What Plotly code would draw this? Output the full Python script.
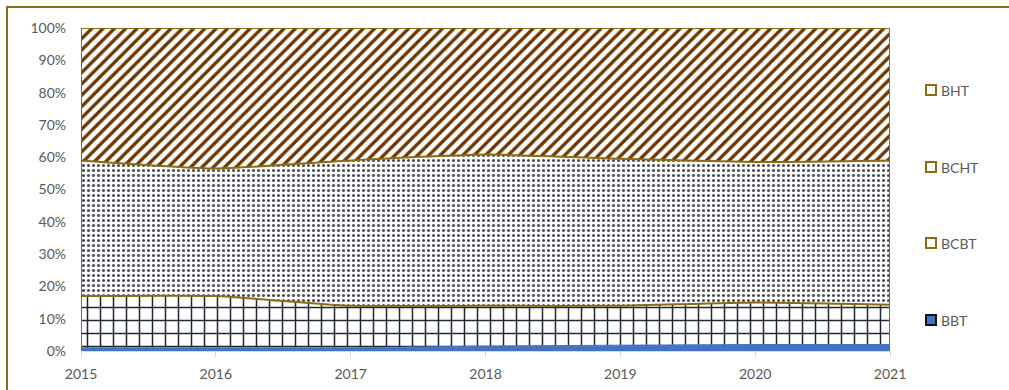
import plotly.graph_objects as go

years = [2015, 2016, 2017, 2018, 2019, 2020, 2021]
BBT = [1.0, 1.0, 1.0, 1.5, 1.8, 2.0, 2.0]
BCBT = [16.0, 16.0, 13.0, 12.5, 12.2, 13.0, 12.3]
BCHT = [42.0, 39.5, 45.0, 46.8, 45.5, 43.5, 44.7]
BHT = [41.0, 43.5, 41.0, 39.2, 40.5, 41.5, 41.0]
series_names = ["BBT", "BCBT", "BCHT", "BHT"]
y_ticks = [0, 10, 20, 30, 40, 50, 60, 70, 80, 90, 100]
y_tick_labels = [f"{v}%" for v in y_ticks]

GOLD = "#8C6A10"
GRAY = "#595959"
FONT = "Lato"

fig = go.Figure()
styles = {
    "BBT": dict(line=dict(color="#4472C4", width=1, smoothing=0.5), fillcolor="#4472C4"),
    "BCBT": dict(line=dict(color=GOLD, width=2, smoothing=0.5), fillcolor="white",
                 fillpattern=dict(shape="+", fgcolor="#1F2733", bgcolor="white", fgopacity=1,
                                  size=13, solidity=0.22)),
    "BCHT": dict(line=dict(color=GOLD, width=2, smoothing=0.5), fillcolor="white",
                 fillpattern=dict(shape=".", fgcolor="#4A4F5A", bgcolor="white", fgopacity=1,
                                  size=5, solidity=0.3)),
    "BHT": dict(line=dict(color=GOLD, width=2, smoothing=0.5), fillcolor="white",
                fillpattern=dict(shape="/", fgcolor="#6E3500", bgcolor="white", fgopacity=1,
                                 size=8, solidity=0.42)),
}
for name, vals in zip(series_names, [BBT, BCBT, BCHT, BHT]):
    st = styles[name]
    fig.add_trace(go.Scatter(
        x=years, y=vals, name=name, mode="lines", stackgroup="one",
        line_shape="spline", showlegend=False,
        **st,
    ))

W, H = 1009, 390
L, R, T, B = 81, 119, 28, 39
pw, ph = W - L - R, H - T - B

def px_x(p):
    return (p - L) / pw

def px_y(p):
    return (H - B - p) / ph

# side edges of the stacked area
for xe in (years[0], years[-1]):
    fig.add_shape(type="line", xref="x", yref="y", x0=xe, x1=xe, y0=0, y1=100,
                  line=dict(color=GOLD, width=2), layer="above")

# outer chart border
fig.add_shape(type="rect", xref="paper", yref="paper",
              x0=px_x(7), x1=px_x(1040), y0=px_y(430), y1=px_y(7),
              line=dict(color=GOLD, width=2), fillcolor="rgba(0,0,0,0)", layer="above")

# manual legend
legend_items = [("BHT", 90, "white", GOLD), ("BCHT", 167, "white", GOLD),
                ("BCBT", 243, "white", GOLD), ("BBT", 320, "#4472C4", "#111111")]
for label, cy, fill, border in legend_items:
    fig.add_shape(type="rect", xref="paper", yref="paper",
                  x0=px_x(926), x1=px_x(936), y0=px_y(cy + 5), y1=px_y(cy - 5),
                  line=dict(color=border, width=2), fillcolor=fill, layer="above")
    fig.add_annotation(xref="paper", yref="paper", x=px_x(939), y=px_y(cy),
                       xanchor="left", yanchor="middle", showarrow=False,
                       text=label, font=dict(family=FONT, size=14, color=GRAY))

fig.update_layout(
    width=W, height=H,
    margin=dict(l=L, r=R, t=T, b=B, autoexpand=False),
    paper_bgcolor="white", plot_bgcolor="white",
    font=dict(family=FONT, size=14, color=GRAY),
    showlegend=False,
    xaxis=dict(range=[2015, 2021], tickvals=years, ticktext=[str(y) for y in years],
               showgrid=False, zeroline=False, showline=True, linecolor="#D9D9D9",
               ticks="outside", ticklen=5, tickcolor="#D9D9D9", ticklabelstandoff=5,
               tickfont=dict(family=FONT, size=14, color=GRAY)),
    yaxis=dict(range=[0, 100], tickvals=y_ticks, ticktext=y_tick_labels,
               showgrid=False, zeroline=False, showline=False, ticks="",
               ticklabelstandoff=14,
               tickfont=dict(family=FONT, size=14, color=GRAY)),
)

fig.write_html("out.html")
